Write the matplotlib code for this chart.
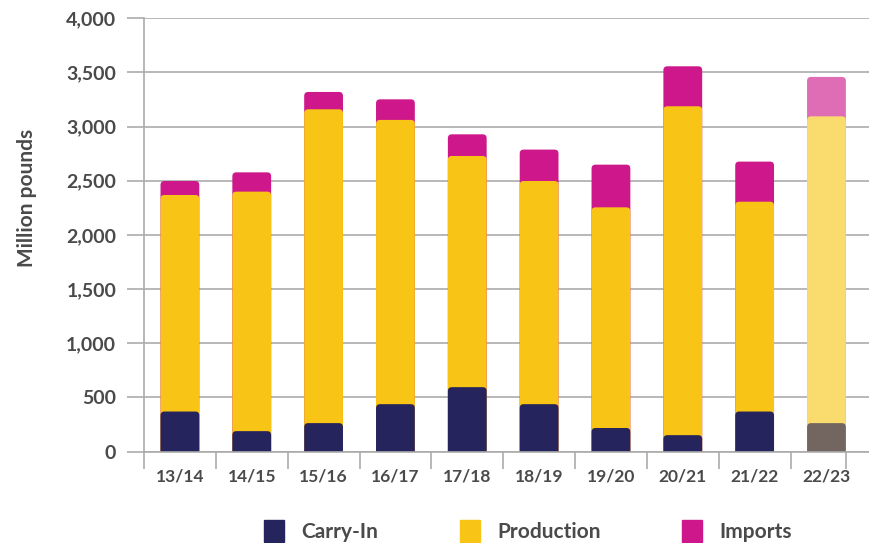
import matplotlib
matplotlib.use('Agg')
import matplotlib.pyplot as plt
from matplotlib.patches import FancyBboxPatch, Patch

seasons = ['13/14', '14/15', '15/16', '16/17', '17/18', '18/19', '19/20', '20/21', '21/22', '22/23']
carry_in = [369, 188, 262, 437, 594, 437, 217, 151, 369, 262]
production = [1999, 2211, 2897, 2624, 2134, 2060, 2037, 3036, 1937, 2832]
imports = [129, 178, 160, 190, 200, 290, 394, 369, 370, 364]

NAVY, YELLOW, MAGENTA = '#25245d', '#f8c415', '#ce178a'
# last season is a forecast -> paler colours
carry_cols = [NAVY] * 9 + ['#736660']
prod_cols = [YELLOW] * 9 + ['#fadb6e']
imp_cols = [MAGENTA] * 9 + ['#de6db5']

plt.rcParams['font.family'] = ['Lato', 'DejaVu Sans']
TXT = '#4a4a4a'
GRID = '#ababab'

fig = plt.figure(figsize=(8.7, 5.43), dpi=100)
ax = fig.add_axes([0.1655, 0.1685, 0.834, 0.798])

x = list(range(len(seasons)))
prod_top = [c + p for c, p in zip(carry_in, production)]
total = [t + i for t, i in zip(prod_top, imports)]

W = 0.54
# back to front: each stack segment drawn from the baseline, so the rounded tops overlap
layers = [(total, imp_cols), (prod_top, prod_cols), (carry_in, carry_cols)]
ax.set_xlim(-0.5, 9.6)
ax.set_ylim(0, 4000)
fig.canvas.draw()
px_x = ax.transData.transform((1, 0))[0] - ax.transData.transform((0, 0))[0]
px_y = ax.transData.transform((0, 1))[1] - ax.transData.transform((0, 0))[1]
aspect = px_x / px_y
for z, (vals, cols) in enumerate(layers):
    bars = ax.bar(x, vals, width=W, color=cols, zorder=3 + z)
    for r in bars.patches:
        bx, by = r.get_x(), r.get_y()
        bw, bh = r.get_width(), r.get_height()
        r.remove()
        fb = FancyBboxPatch((bx, by - 80), bw, bh + 80,
                            boxstyle='round,pad=0,rounding_size=0.055',
                            mutation_aspect=aspect, facecolor=r.get_facecolor(),
                            edgecolor='none', zorder=3 + z)
        ax.add_patch(fb)

ax.set_yticks(range(0, 4001, 500))
ax.set_yticklabels([f'{v:,}' for v in range(0, 4001, 500)])
ax.grid(axis='y', color=GRID, linewidth=1.2, zorder=0)
ax.tick_params(axis='y', length=12, width=1.2, color=GRID, pad=8, labelsize=14, labelcolor=TXT)
for lab in ax.get_yticklabels():
    lab.set_fontweight('bold')

# boundary ticks without labels, season labels under the bars
edges = [i - 0.5 for i in range(10)] + [9 + W / 2]
ax.set_xticks(edges)
ax.set_xticklabels([''] * len(edges))
ax.tick_params(axis='x', which='major', length=12, width=1.2, color=GRID)
ax.set_xticks(x, minor=True)
ax.set_xticklabels(seasons, minor=True, fontsize=12.5, fontweight='bold', color=TXT)
ax.tick_params(axis='x', which='minor', length=0, pad=12)

for s in ['top', 'right']:
    ax.spines[s].set_visible(False)
for s in ['left', 'bottom']:
    ax.spines[s].set_color(GRID)
    ax.spines[s].set_linewidth(1.2)
    ax.spines[s].set_zorder(10)

ax.set_ylabel('Million pounds', fontsize=15, fontweight='bold', color=TXT)
ax.yaxis.set_label_coords(-0.147, 0.585)

handles = [Patch(color=NAVY, label='Carry-In'),
           Patch(color=YELLOW, label='Production'),
           Patch(color=MAGENTA, label='Imports')]
leg = fig.legend(handles=handles, loc='center', bbox_to_anchor=(0.607, 0.022), ncol=3,
                 frameon=False, handlelength=0.95, handleheight=1.3, handletextpad=0.85,
                 columnspacing=3.9, prop={'size': 15, 'weight': 'bold'})
for t in leg.get_texts():
    t.set_color(TXT)

fig.savefig('out.png', dpi=100)
